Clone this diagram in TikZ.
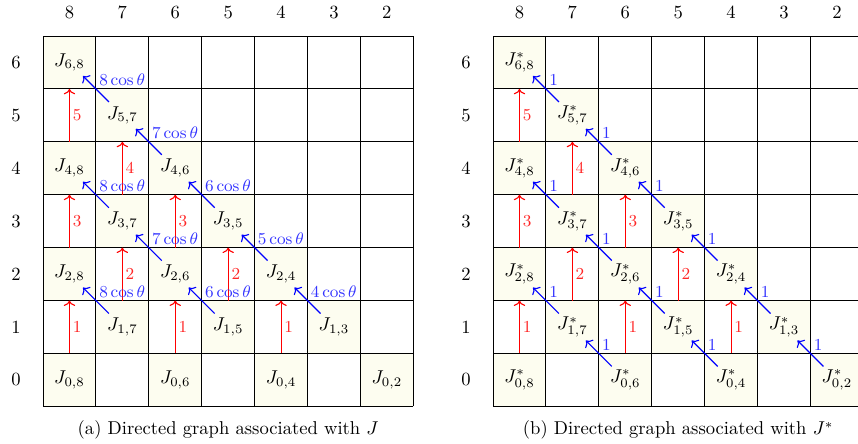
\documentclass[tikz,border=0pt]{standalone}
\usepackage{amsmath}
\usepackage{amssymb}
\usepackage{tikz}
\usetikzlibrary{arrows.meta,positioning,calc}

\definecolor{cellfill}{RGB}{253,253,240}

\begin{document}
\begin{tikzpicture}[
        cell/.style={rectangle, fill=cellfill, minimum size=1cm, inner sep=0pt, outer sep=0pt},
        uparrow/.style={red, semithick, ->},
        diagarrow/.style={blue, semithick, ->, shorten <=0.36cm, shorten >=0.36cm},
        % labels of the arcs
        uplabel/.style={right, inner sep=1.5pt, text=red!85, font=\small},
        diaglabel/.style={anchor=south west, inner sep=1.5pt, text=blue!80, font=\small}
    ]
    \useasboundingbox (-0.813,-0.712) rectangle (15.406,7.681);

    % --- Part (a): graph of J ---
    \foreach \i/\j in {6/8, 5/7, 4/8, 4/6, 3/7, 3/5, 2/8, 2/6, 2/4, 1/7, 1/5, 1/3, 0/8, 0/6, 0/4, 0/2}
        \node (j\i\j) [cell] at ({8.5-\j}, {\i+0.5}) {$J_{\i,\j}$};
    \draw[line width=0.5pt] (0,0) grid (7,7);
    \foreach \c [count=\n from 0] in {8,...,2}
        \node (colA\c) at (\n+0.5, 7.45) {\c};
    \foreach \r in {0,...,6}
        \node (rowA\r) at (-0.51, \r+0.5) {\r};

    % vertical arcs J_{i,j} -> J_{i+2,j}
    \foreach \i/\j [evaluate=\i as \k using int(\i+2), evaluate=\i as \w using int(\i+1)] in {0/8, 2/8, 4/8, 1/7, 3/7, 0/6, 2/6, 1/5, 0/4}
        \draw[uparrow] (j\i\j.north) -- node[uplabel] {\w} (j\k\j.south);
    % diagonal arcs J_{i,j} -> J_{i+1,j+1}
    \foreach \i/\j [evaluate=\i as \k using int(\i+1), evaluate=\j as \m using int(\j+1)] in {5/7, 4/6, 3/7, 3/5, 2/6, 2/4, 1/7, 1/5, 1/3}
        \draw[diagarrow] (j\i\j.center) -- node[diaglabel] {$\m\cos\theta$} (j\k\m.center);

    \node (capA) at (3.5, -0.45) {(a) Directed graph associated with $J$};

    % --- Part (b): graph of J* ---
    \begin{scope}[xshift=8.507cm]
    \foreach \i/\j in {6/8, 5/7, 4/8, 4/6, 3/7, 3/5, 2/8, 2/6, 2/4, 1/7, 1/5, 1/3, 0/8, 0/6, 0/4, 0/2}
        \node (s\i\j) [cell] at ({8.5-\j}, {\i+0.5}) {$J^*_{\i,\j}$};
    \draw[line width=0.5pt] (0,0) grid (7,7);
    \foreach \c [count=\n from 0] in {8,...,2}
        \node (colB\c) at (\n+0.5, 7.45) {\c};
    \foreach \r in {0,...,6}
        \node (rowB\r) at (-0.51, \r+0.5) {\r};

    \foreach \i/\j [evaluate=\i as \k using int(\i+2), evaluate=\i as \w using int(\i+1)] in {0/8, 2/8, 4/8, 1/7, 3/7, 0/6, 2/6, 1/5, 0/4}
        \draw[uparrow] (s\i\j.north) -- node[uplabel] {\w} (s\k\j.south);
    \foreach \i/\j [evaluate=\i as \k using int(\i+1), evaluate=\j as \m using int(\j+1)] in {5/7, 4/6, 3/7, 3/5, 2/6, 2/4, 1/7, 1/5, 1/3, 0/6, 0/4, 0/2}
        \draw[diagarrow] (s\i\j.center) -- node[diaglabel] {1} (s\k\m.center);

    \node (capB) at (3.5, -0.45) {(b) Directed graph associated with $J^*$};
    \end{scope}

\end{tikzpicture}
\end{document}
